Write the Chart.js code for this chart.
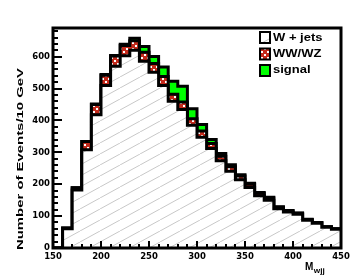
<!DOCTYPE html>
<html>
<head>
<meta charset="utf-8">
<script src="https://cdn.jsdelivr.net/npm/chart.js@4.4.0/dist/chart.umd.min.js"></script>
<style>
  html, body { margin: 0; padding: 0; background: #fff; }
</style>
</head>
<body>
<canvas id="c" width="360" height="277"></canvas>
<script>
// bin low edges (GeV), 10 GeV bins, last bin ends at 450
const binLow = [150, 160, 170, 180, 190, 200, 210, 220, 230, 240,
                250, 260, 270, 280, 290, 300, 310, 320, 330, 340,
                350, 360, 370, 380, 390, 400, 410, 420, 430, 440];
const binEnd = 450;

// events per bin
const wJets  = [0, 60, 182, 308, 418, 510, 570, 603, 620, 586,
                551, 510, 460, 434, 385, 347, 312, 274, 241, 214,
                190, 164, 150, 123, 113, 106, 87, 78, 65, 59];
const wwWz   = [0, 3, 7, 26, 32, 32, 32, 32, 30, 28,
                28, 28, 22, 24, 20, 20, 16, 14, 14, 12,
                10, 8, 7, 5, 4, 3, 2, 2, 2, 1];
const signal = [0, 0, 0, 0, 2, 2, 2, 4, 8, 18,
                22, 30, 41, 49, 32, 20, 12, 8, 6, 4,
                3, 2, 2, 1, 1, 1, 1, 0, 0, 0];

const seriesLabels = ['W + jets', 'WW/WZ', 'signal'];
const xTicks = [150, 200, 250, 300, 350, 400, 450];
const yTicks = [0, 100, 200, 300, 400, 500, 600];
const yMax = 690;

const FONT = '"Liberation Sans", Arial, sans-serif';

function makeHatch() {
  const c = document.createElement('canvas');
  c.width = 20; c.height = 11;
  const g = c.getContext('2d');
  g.fillStyle = '#ffffff';
  g.fillRect(0, 0, 20, 11);
  g.strokeStyle = '#c8c8c8';
  g.lineWidth = 1;
  for (const dx of [-20, 0, 20]) {
    g.beginPath();
    g.moveTo(dx, 11);
    g.lineTo(dx + 20, 0);
    g.stroke();
  }
  return g.createPattern(c, 'repeat');
}

function makeChecker() {
  const c = document.createElement('canvas');
  c.width = 6; c.height = 6;
  const g = c.getContext('2d');
  g.fillStyle = '#c42a1c';
  g.fillRect(0, 0, 6, 6);
  g.fillStyle = '#ffffff';
  g.fillRect(0, 0, 2, 2);
  g.fillRect(3, 3, 2, 2);
  return g.createPattern(c, 'repeat');
}

// stacked step points: one point per bin low edge, plus the closing edge
function stepPoints(values) {
  const pts = binLow.map((x, i) => ({ x: x, y: values[i] }));
  pts.push({ x: binEnd, y: values[values.length - 1] });
  return pts;
}

const cumWW = wJets.map((v, i) => v + wwWz[i]);
const cumAll = cumWW.map((v, i) => v + signal[i]);

const fills = [makeHatch(), makeChecker(), '#00ff00'];

// text stretched along its baseline
function wideText(ctx, str, x, y, size, sx, align) {
  ctx.save();
  ctx.font = 'bold ' + size + 'px ' + FONT;
  ctx.textBaseline = 'alphabetic';
  ctx.textAlign = 'left';
  const w = ctx.measureText(str).width * sx;
  let x0 = x;
  if (align === 'center') x0 = x - w / 2;
  if (align === 'right') x0 = x - w;
  ctx.translate(x0, y);
  ctx.scale(sx, 1);
  ctx.fillText(str, 0, 0);
  ctx.restore();
  return w;
}

const decorations = {
  id: 'decorations',
  afterDraw(chart) {
    const { ctx, chartArea: a, scales } = chart;
    const x = scales.x, y = scales.y;
    ctx.save();
    ctx.strokeStyle = '#000';
    ctx.fillStyle = '#000';

    // inward ticks
    ctx.lineWidth = 2;
    ctx.beginPath();
    for (let v = 0; v <= yMax; v += 20) {
      const py = Math.round(y.getPixelForValue(v));
      const len = v % 100 === 0 ? 9 : 5;
      ctx.moveTo(a.left, py);
      ctx.lineTo(a.left + len, py);
    }
    for (let v = 150; v <= 450; v += 10) {
      const px = Math.round(x.getPixelForValue(v));
      const len = v % 50 === 0 ? 7 : 4;
      ctx.moveTo(px, a.bottom);
      ctx.lineTo(px, a.bottom - len);
    }
    ctx.stroke();

    // frame
    ctx.lineWidth = 3;
    ctx.strokeRect(a.left, a.top, a.right - a.left, a.bottom - a.top);

    // axis titles
    const mW = wideText(ctx, 'M', 305, 270, 10, 1.0, 'left');
    wideText(ctx, 'wjj', 305 + mW + 0.5, 272.5, 7.5, 1.1, 'left');

    ctx.save();
    ctx.translate(23, 159);
    ctx.rotate(-Math.PI / 2);
    ctx.font = '9px ' + FONT;
    const title = 'Number of Events/10 GeV';
    const sx = 182 / ctx.measureText(title).width;
    ctx.font = 'bold 9px ' + FONT;
    const sxb = 182 / ctx.measureText(title).width;
    wideText(ctx, title, 0, 0, 9.5, sxb * 9 / 9.5, 'center');
    ctx.restore();

    // legend
    const rows = [41, 57, 73];
    const boxTop = [32, 48.5, 65];
    chart.data.datasets.forEach((ds, i) => {
      ctx.fillStyle = ds.backgroundColor;
      ctx.fillRect(260, boxTop[i], 10, 11);
      ctx.lineWidth = 2;
      ctx.strokeStyle = '#000';
      ctx.strokeRect(260, boxTop[i], 10, 11);
      ctx.fillStyle = '#000';
      wideText(ctx, ds.label, 273, rows[i], 10, 1.3, 'left');
    });
    ctx.restore();
  }
};

const datasets = [wJets, cumWW, cumAll].map((vals, i) => ({
  label: seriesLabels[i],
  data: stepPoints(vals),
  stepped: true,
  borderColor: '#000000',
  borderWidth: 3,
  backgroundColor: fills[i],
  fill: i === 0 ? 'origin' : '-1',
  pointRadius: 0,
  tension: 0
}));

const tickFont = { family: '"DejaVu Sans"', size: 8.5, weight: 'bold' };

new Chart(document.getElementById('c'), {
  type: 'line',
  data: { datasets: datasets },
  options: {
    responsive: false,
    animation: false,
    layout: { padding: { top: 28, right: 19, left: 0, bottom: 0 } },
    plugins: {
      legend: { display: false },
      tooltip: { enabled: false }
    },
    scales: {
      x: {
        type: 'linear',
        min: 150,
        max: 450,
        grid: { display: false, drawTicks: false },
        border: { display: false },
        afterBuildTicks(scale) { scale.ticks = xTicks.map(v => ({ value: v })); },
        ticks: { padding: 4, maxRotation: 0, autoSkip: false, color: '#000', font: tickFont },
        afterFit(scale) { scale.height = 29; }
      },
      y: {
        min: 0,
        max: yMax,
        grid: { display: false, drawTicks: false },
        border: { display: false },
        afterBuildTicks(scale) { scale.ticks = yTicks.map(v => ({ value: v })); },
        ticks: { padding: 3, autoSkip: false, color: '#000', font: tickFont },
        afterFit(scale) { scale.width = 53; }
      }
    }
  },
  plugins: [decorations]
});
</script>
</body>
</html>
